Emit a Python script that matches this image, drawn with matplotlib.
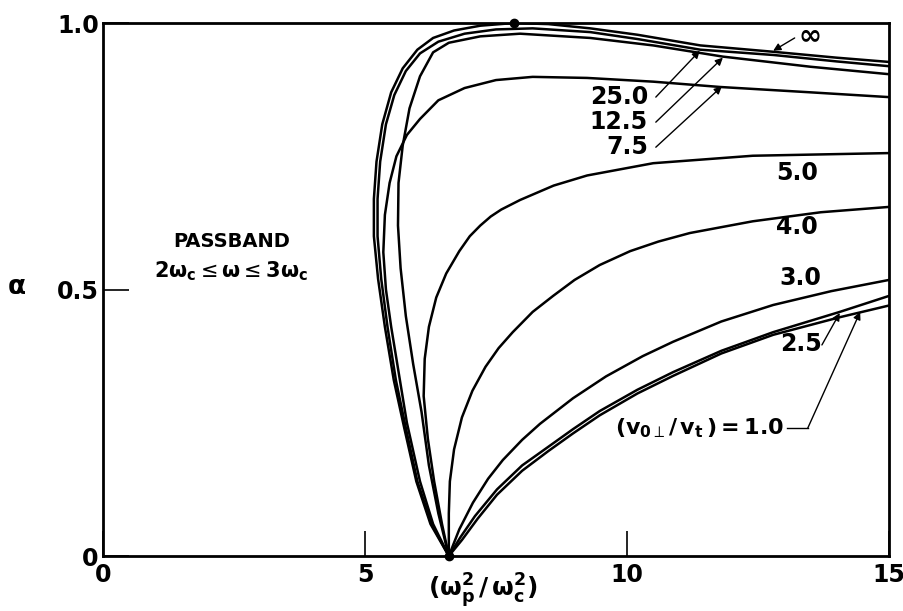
import matplotlib
matplotlib.use("Agg")
import matplotlib.pyplot as plt

plt.rcParams['font.family'] = ['DejaVu Sans']
plt.rcParams['mathtext.fontset'] = 'dejavusans'

# alpha versus (wp^2/wc^2), one curve per (v0perp/vt)
x_inf = [6.6, 6.25, 5.98, 5.75, 5.55, 5.38, 5.25, 5.17, 5.17, 5.22, 5.33, 5.5, 5.72, 6.0, 6.3, 6.7, 7.2, 7.84,
         8.5, 9.3, 10.2, 11.4, 12.8, 14.0, 15.0]
a_inf = [0.0, 0.06, 0.14, 0.24, 0.33, 0.43, 0.52, 0.6, 0.67, 0.74, 0.81, 0.87, 0.915, 0.95, 0.972, 0.986, 0.995, 1.0,
         0.998, 0.99, 0.978, 0.958, 0.946, 0.935, 0.927]

x_25 = [6.6, 6.27, 6.0, 5.78, 5.59, 5.43, 5.31, 5.24, 5.24, 5.29, 5.4, 5.56, 5.78, 6.05, 6.4, 6.9, 7.5, 8.2,
        9.3, 10.2, 11.4, 12.8, 14.0, 15.0]
a_25 = [0.0, 0.06, 0.14, 0.24, 0.33, 0.43, 0.52, 0.6, 0.67, 0.74, 0.81, 0.865, 0.91, 0.943, 0.965, 0.98, 0.988, 0.99,
        0.983, 0.97, 0.95, 0.94, 0.928, 0.919]

x_125 = [6.6, 6.4, 6.22, 6.08, 5.92, 5.78, 5.68, 5.63, 5.64, 5.72, 5.85, 6.05, 6.3, 6.6, 7.2, 7.96,
         9.3, 10.5, 11.83, 13.5, 15.0]
a_125 = [0.0, 0.08, 0.17, 0.27, 0.36, 0.45, 0.54, 0.62, 0.7, 0.77, 0.84, 0.9, 0.945, 0.963, 0.975, 0.98,
         0.972, 0.958, 0.937, 0.918, 0.904]

x_75 = [6.6, 6.3, 6.05, 5.8, 5.65, 5.5, 5.4, 5.35, 5.38, 5.47, 5.6, 5.8, 6.05, 6.4, 6.9, 7.5, 8.2,
        9.24, 10.5, 11.78, 13.5, 15.0]
a_75 = [0.0, 0.06, 0.14, 0.25, 0.34, 0.43, 0.5, 0.57, 0.64, 0.7, 0.75, 0.79, 0.82, 0.855, 0.878, 0.893, 0.899,
        0.897, 0.89, 0.88, 0.87, 0.861]

x_50 = [6.6, 6.47, 6.32, 6.2, 6.12, 6.14, 6.22, 6.36, 6.55, 6.8, 7.0, 7.2, 7.4, 7.6, 7.96, 8.6, 9.24, 10.5,
        12.4, 15.0]
a_50 = [0.0, 0.06, 0.14, 0.22, 0.3, 0.37, 0.43, 0.485, 0.53, 0.572, 0.6, 0.62, 0.637, 0.65, 0.668, 0.695,
        0.714, 0.737, 0.751, 0.756]

x_40 = [6.6, 6.6, 6.62, 6.7, 6.85, 7.05, 7.3, 7.55, 7.82, 8.2, 8.59, 9.0, 9.48, 10.06, 10.6, 11.2, 12.4,
        13.7, 15.0]
a_40 = [0.0, 0.08, 0.14, 0.2, 0.26, 0.31, 0.355, 0.39, 0.42, 0.458, 0.488, 0.518, 0.546, 0.572, 0.59, 0.606,
        0.628, 0.645, 0.655]

x_30 = [6.6, 6.8, 7.06, 7.35, 7.63, 8.0, 8.34, 8.97, 9.6, 10.3, 10.88, 11.8, 12.79, 13.9, 15.0]
a_30 = [0.0, 0.05, 0.1, 0.145, 0.18, 0.218, 0.248, 0.296, 0.337, 0.375, 0.402, 0.44, 0.471, 0.497, 0.518]

x_25b = [6.6, 6.82, 7.1, 7.52, 8.0, 8.5, 8.97, 9.48, 10.2, 10.88, 11.8, 12.79, 14.06, 15.0]
a_25b = [0.0, 0.035, 0.075, 0.125, 0.17, 0.205, 0.238, 0.272, 0.312, 0.345, 0.385, 0.42, 0.458, 0.488]

x_10 = [6.6, 6.85, 7.15, 7.52, 8.0, 8.5, 8.97, 9.48, 10.2, 10.88, 11.8, 12.79, 14.06, 15.0]
a_10 = [0.0, 0.03, 0.07, 0.115, 0.16, 0.197, 0.23, 0.264, 0.305, 0.338, 0.38, 0.415, 0.448, 0.47]

curves = [(x_inf, a_inf), (x_25, a_25), (x_125, a_125), (x_75, a_75), (x_50, a_50),
          (x_40, a_40), (x_30, a_30), (x_25b, a_25b), (x_10, a_10)]

# cusp and peak points
dot_x = [6.6, 7.84]
dot_a = [0.0, 1.0]

fig = plt.figure(figsize=(9.04, 6.11), dpi=100)
ax = fig.add_axes([0.1139, 0.09, 0.8695, 0.8723])

for xs, ys in curves:
    ax.plot(xs, ys, color='black', lw=1.8, solid_joinstyle='round', solid_capstyle='round')
ax.plot(dot_x, dot_a, 'o', color='black', ms=6, clip_on=False, zorder=5)

ax.set_xlim(0, 15)
ax.set_ylim(0, 1)
ax.set_xticks([0, 5, 10, 15])
ax.set_xticklabels(['0', '5', '10', '15'], fontweight='bold')
ax.set_yticks([0, 0.5, 1.0])
ax.set_yticklabels(['0', '0.5', '1.0'], fontweight='bold')
ax.tick_params(axis='x', direction='in', length=18, width=1.2, pad=5, labelsize=17)
ax.tick_params(axis='y', direction='in', length=19, width=1.2, pad=3, labelsize=17)
for s in ax.spines.values():
    s.set_linewidth(2.0)

ax.text(-0.11, 0.505, r'$\mathbf{\alpha}$', transform=ax.transAxes, fontsize=19, ha='center', va='center')
ax.text(6.2, -0.065, r'$\mathbf{(\omega_p^2\,/\,\omega_c^2)}$', fontsize=18, ha='left', va='center')
ax.text(2.45, 0.59, 'PASSBAND', fontsize=14, fontweight='bold', ha='center', va='center')
ax.text(2.45, 0.535, r'$\mathbf{2\omega_c}\leq\mathbf{\omega}\leq\mathbf{3\omega_c}$', fontsize=15,
        ha='center', va='center')

# curve labels
lab_kw = dict(fontsize=17, fontweight='bold', va='center')
ax.text(13.24, 0.718, '5.0', ha='center', **lab_kw)
ax.text(13.24, 0.617, '4.0', ha='center', **lab_kw)
ax.text(13.3, 0.521, '3.0', ha='center', **lab_kw)

arrow = dict(arrowstyle='-|>', lw=1.0, color='black', mutation_scale=11, shrinkA=0, shrinkB=0)

ax.text(13.49, 0.977, '∞', fontsize=20, fontweight='bold', ha='center', va='center')
ax.annotate('', xy=(12.79, 0.948), xytext=(13.2, 0.972), arrowprops=arrow)

for lab, ty, tip in [('25.0', 0.861, (11.39, 0.948)),
                     ('12.5', 0.814, (11.83, 0.935)),
                     ('7.5', 0.767, (11.81, 0.881))]:
    ax.text(10.4, ty, lab, ha='right', **lab_kw)
    ax.annotate('', xy=tip, xytext=(10.55, ty), arrowprops=arrow)

ax.text(13.32, 0.398, '2.5', ha='center', **lab_kw)
ax.annotate('', xy=(14.06, 0.456), xytext=(13.72, 0.396), arrowprops=arrow)

ax.text(13.0, 0.24, r'$\mathbf{(v}_{\mathbf{0}\perp}\mathbf{/\,v}_{\mathbf{t}}\,\mathbf{)=1.0}$', fontsize=16,
        ha='right', va='center')
ax.plot([13.05, 13.45], [0.24, 0.24], color='black', lw=1.0)
ax.annotate('', xy=(14.45, 0.458), xytext=(13.45, 0.24), arrowprops=arrow)

fig.savefig('out.png', dpi=100)
